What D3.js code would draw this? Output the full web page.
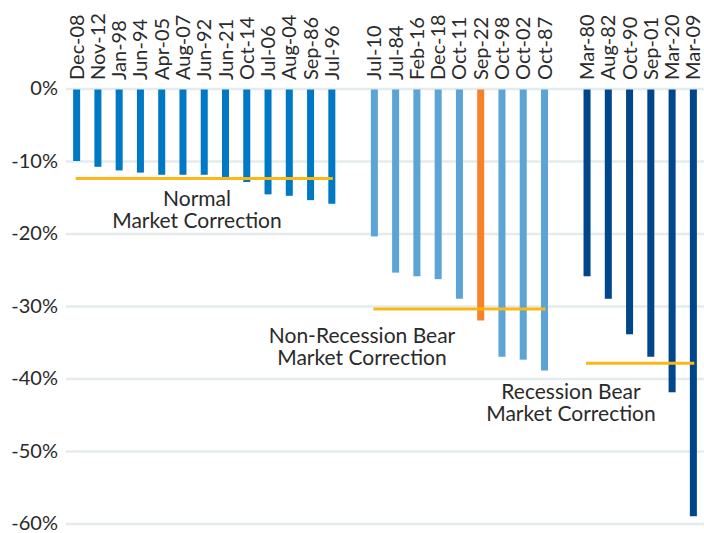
<!DOCTYPE html>
<html lang="en">
<head>
    <meta charset="UTF-8">
    <title>Market corrections</title>
    <script src="https://d3js.org/d3.v7.min.js"></script>
    <style>
        body { margin: 0; background: #fff; }
        text { font-family: Lato, "Open Sans", sans-serif; fill: #2a2a2a; }
    </style>
</head>
<body>
    <div id="chart"></div>

    <script>
        // three groups of corrections
        var normalCats = ["Dec-08", "Nov-12", "Jan-98", "Jun-94", "Apr-05", "Aug-07", "Jun-92", "Jun-21", "Oct-14", "Jul-06", "Aug-04", "Sep-86", "Jul-96"];
        var normalVals = [-10.0, -10.8, -11.3, -11.6, -11.9, -11.9, -11.9, -12.2, -12.9, -14.6, -14.8, -15.4, -15.9];

        var nonRecCats = ["Jul-10", "Jul-84", "Feb-16", "Dec-18", "Oct-11", "Sep-22", "Oct-98", "Oct-02", "Oct-87"];
        var nonRecVals = [-20.4, -25.4, -25.9, -26.3, -29.0, -32.0, -37.0, -37.4, -38.9];

        var recCats = ["Mar-80", "Aug-82", "Oct-90", "Sep-01", "Mar-20", "Mar-09"];
        var recVals = [-25.9, -29.0, -33.9, -37.0, -41.9, -59.0];

        var groupNames = [["Normal", "Market Correction"], ["Non-Recession Bear", "Market Correction"], ["Recession Bear", "Market Correction"]];
        var groupAverages = [-12.4, -30.4, -37.9];
        var groupColors = ["#0079c5", "#5ba4d5", "#00468b"];
        var highlightCat = "Sep-22";

        var yTicks = [0, -10, -20, -30, -40, -50, -60];

        var width = 704;
        var height = 533;

        var groups = [
            { cats: normalCats, vals: normalVals },
            { cats: nonRecCats, vals: nonRecVals },
            { cats: recCats, vals: recVals }
        ];

        // domain with an empty slot between groups
        var domain = normalCats.concat(["gap1"], nonRecCats, ["gap2"], recCats);

        var x = d3.scaleBand()
            .domain(domain)
            .range([66, 704])
            .paddingInner(0.67)
            .paddingOuter(0.335);

        var y = d3.scaleLinear()
            .domain([-60, 0])
            .range([523.5, 88.5]);

        var svg = d3.select('#chart').append('svg')
            .attr('width', width)
            .attr('height', height);

        // y axis + gridlines
        var yAxis = svg.append('g')
            .attr('transform', 'translate(66,0)')
            .call(d3.axisLeft(y)
                .tickValues(yTicks)
                .tickSize(-638)
                .tickPadding(8)
                .tickFormat(d => d + '%'));
        yAxis.select('.domain').remove();
        yAxis.selectAll('line').attr('stroke', '#e5ebed').attr('stroke-width', 2.5);
        yAxis.selectAll('text')
            .style('font-size', '20px')
            .style('font-family', 'Lato, sans-serif')
            .attr('fill', '#2a2a2a');

        // category labels along the top
        var xAxis = svg.append('g')
            .attr('transform', 'translate(0,80)')
            .call(d3.axisTop(x)
                .tickValues(domain.filter(d => d.indexOf('gap') !== 0))
                .tickSize(0)
                .tickPadding(0));
        xAxis.select('.domain').remove();
        xAxis.selectAll('text')
            .attr('transform', 'rotate(-90)')
            .attr('x', 0)
            .attr('y', 0)
            .attr('dy', '0.35em')
            .attr('text-anchor', 'start')
            .style('font-size', '20px')
            .style('font-family', 'Lato, sans-serif')
            .attr('fill', '#2a2a2a');

        // bars
        groups.forEach(function (g, gi) {
            svg.append('g').selectAll('rect')
                .data(g.cats)
                .enter().append('rect')
                    .attr('x', d => x(d))
                    .attr('width', x.bandwidth())
                    .attr('y', y(0) + 1)
                    .attr('height', (d, i) => y(g.vals[i]) - y(0) - 1)
                    .style('fill', d => d === highlightCat ? '#f7822a' : groupColors[gi]);
        });

        // average lines
        groups.forEach(function (g, gi) {
            var first = g.cats[0], last = g.cats[g.cats.length - 1];
            svg.append('line')
                .attr('x1', x(first) + x.bandwidth() / 2 - 1)
                .attr('x2', x(last) + x.bandwidth() / 2 + 1)
                .attr('y1', y(groupAverages[gi]))
                .attr('y2', y(groupAverages[gi]))
                .attr('stroke', '#fbb814')
                .attr('stroke-width', 3);
        });

        // group labels, one text per line
        var labelPos = [[197, 206], [362, 343], [571, 399]];
        groupNames.forEach(function (lines, gi) {
            svg.append('g').selectAll('text')
                .data(lines)
                .enter().append('text')
                    .attr('x', labelPos[gi][0])
                    .attr('y', (d, li) => labelPos[gi][1] + li * 22)
                    .attr('text-anchor', 'middle')
                    .style('font-size', '21px')
                    .text(d => d);
        });
    </script>
</body>
</html>
